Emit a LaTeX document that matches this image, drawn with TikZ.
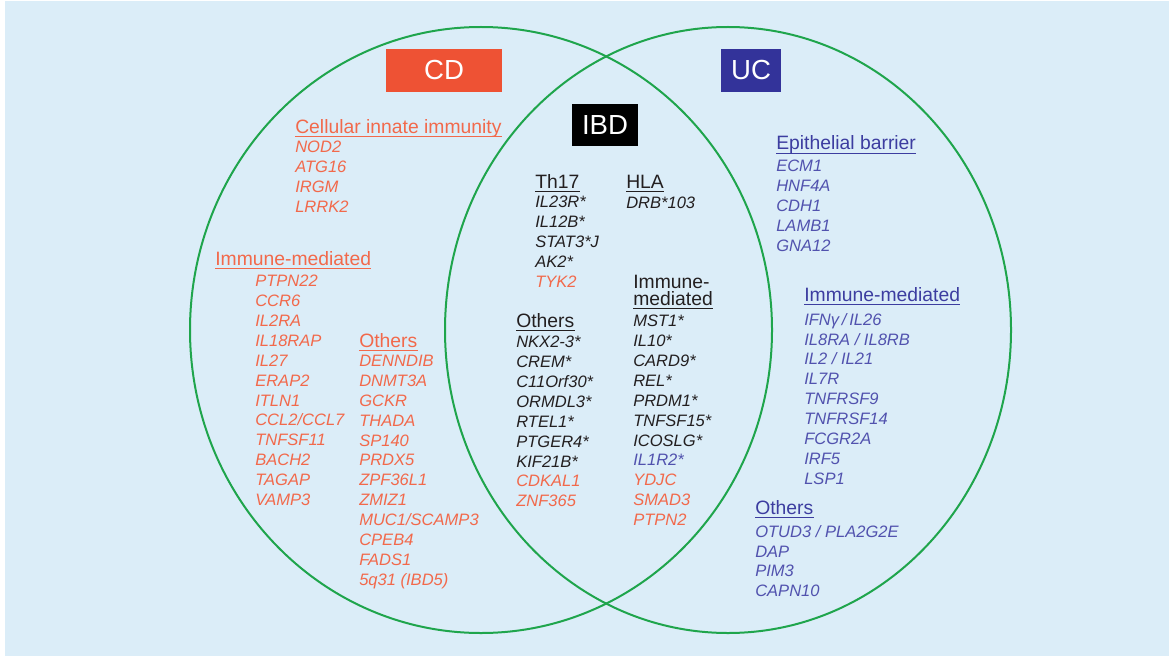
\documentclass[tikz,border=0pt]{standalone}
\usepackage{fontspec}
\setmainfont{Liberation Sans}
\usetikzlibrary{calc}

\definecolor{paneblue}{HTML}{DBEDF8}
\definecolor{ringgreen}{HTML}{1FA54C}
\definecolor{cdbox}{HTML}{EE5234}
\definecolor{cdtxt}{HTML}{F2694B}
\definecolor{ucbox}{HTML}{33339A}
\definecolor{uchead}{HTML}{3C3DA0}
\definecolor{uctxt}{HTML}{5152AE}
\definecolor{darktxt}{HTML}{231F20}

\tikzset{
  ring/.style={draw=ringgreen, line width=1.5pt},
  tagbox/.style={inner sep=0pt, minimum height=32.25pt, text=white, font=\fontsize{20.7}{24}\selectfont},
  grouphead/.style={anchor=base west, inner sep=0pt, font=\fontsize{14.5}{17}\selectfont},
  genelist/.style={anchor=north west, inner sep=0pt, align=left, font=\fontsize{12.4}{14.9}\selectfont\itshape},
  headline/.style={line width=1.2pt},
}

\begin{document}
\begin{tikzpicture}[x=0.75pt,y=0.75pt,yscale=-1]
%Background
\fill[paneblue] (0,0) rectangle (1169,656);
\fill[white] (0,0) rectangle (5,656);
\fill[white] (0,0) rectangle (1169,1);

%Shape: Ellipse [CD]
\draw[ring] (481,330) ellipse [x radius=291, y radius=303];
%Shape: Ellipse [UC]
\draw[ring] (728,330) ellipse [x radius=283, y radius=303];

% Tag boxes
\node[tagbox, fill=cdbox, minimum width=87pt] (cd) at (444,70.5) {CD};
\node[tagbox, fill=ucbox, minimum width=45pt] (uc) at (751,70.5) {UC};
\node[tagbox, fill=black, minimum width=49.5pt, minimum height=31.5pt] (ibd) at (605,125) {IBD};

% CD only
\node[grouphead, text=cdtxt] (cdinnate) at (295,133) {Cellular innate immunity};
\node[genelist, text=cdtxt] (cdinnatelist) at (295,141) {NOD2\\ATG16\\IRGM\\LRRK2};
\node[grouphead, text=cdtxt] (cdimmune) at (215,265) {Immune-mediated};
\node[genelist, text=cdtxt] (cdimmunelist) at (255,275) {PTPN22\\CCR6\\IL2RA\\IL18RAP\\IL27\\ERAP2\\ITLN1\\CCL2/CCL7\\TNFSF11\\BACH2\\TAGAP\\VAMP3};
\node[grouphead, text=cdtxt] (cdothers) at (359,347) {Others};
\node[genelist, text=cdtxt] (cdotherslist) at (359,355) {DENNDIB\\DNMT3A\\GCKR\\THADA\\SP140\\PRDX5\\ZPF36L1\\ZMIZ1\\MUC1/SCAMP3\\CPEB4\\FADS1\\5q31 (IBD5)};

% Shared (IBD)
\node[grouphead, text=darktxt] (thhead) at (535,188) {Th17};
\node[genelist, text=darktxt] (thlist) at (535,196) {IL23R*\\IL12B*\\STAT3*J\\AK2*\\{\color{cdtxt}TYK2}};
\node[grouphead, text=darktxt] (hlahead) at (626,188) {HLA};
\node[genelist, text=darktxt] (hlalist) at (626,197) {DRB*103};
\node[grouphead, text=darktxt] (ibdimmune) at (633,288) {Immune-};
\node[grouphead, text=darktxt] (ibdmediated) at (633,305) {mediated};
\node[genelist, text=darktxt] (ibdimmunelist) at (633,315) {MST1*\\IL10*\\CARD9*\\REL*\\PRDM1*\\TNFSF15*\\ICOSLG*\\{\color{uctxt}IL1R2*}\\{\color{cdtxt}YDJC}\\{\color{cdtxt}SMAD3}\\{\color{cdtxt}PTPN2}};
\node[grouphead, text=darktxt] (ibdothers) at (516,327) {Others};
\node[genelist, text=darktxt] (ibdotherslist) at (516,336) {NKX2-3*\\CREM*\\C11Orf30*\\ORMDL3*\\RTEL1*\\PTGER4*\\KIF21B*\\{\color{cdtxt}CDKAL1}\\{\color{cdtxt}ZNF365}};

% UC only
\node[grouphead, text=uchead] (ucepi) at (776,150) {Epithelial barrier};
\node[genelist, text=uctxt] (ucepilist) at (776,160) {ECM1\\HNF4A\\CDH1\\LAMB1\\GNA12};
\node[grouphead, text=uchead] (ucimmune) at (804,301) {Immune-mediated};
\node[genelist, text=uctxt] (ucimmunelist) at (804,313) {IFNγ\,/\,IL26\\IL8RA / IL8RB\\IL2 / IL21\\IL7R\\TNFRSF9\\TNFRSF14\\FCGR2A\\IRF5\\LSP1};
\node[grouphead, text=uchead] (ucothers) at (755,514) {Others};
\node[genelist, text=uctxt] (ucotherslist) at (755,525) {OTUD3 / PLA2G2E\\DAP\\PIM3\\CAPN10};

% Underlines
\draw[headline, cdtxt] ($(cdinnate.base west)+(0,3.5)$) -- ($(cdinnate.base east)+(0,3.5)$);
\draw[headline, cdtxt] ($(cdimmune.base west)+(0,3.5)$) -- ($(cdimmune.base east)+(0,3.5)$);
\draw[headline, cdtxt] ($(cdothers.base west)+(0,3.5)$) -- ($(cdothers.base east)+(0,3.5)$);
\draw[headline, darktxt] ($(thhead.base west)+(0,3.5)$) -- ($(thhead.base east)+(0,3.5)$);
\draw[headline, darktxt] ($(hlahead.base west)+(0,3.5)$) -- ($(hlahead.base east)+(0,3.5)$);
\draw[headline, darktxt] ($(ibdmediated.base west)+(0,3.5)$) -- ($(ibdmediated.base east)+(0,3.5)$);
\draw[headline, darktxt] ($(ibdothers.base west)+(0,3.5)$) -- ($(ibdothers.base east)+(0,3.5)$);
\draw[headline, uchead] ($(ucepi.base west)+(0,3.5)$) -- ($(ucepi.base east)+(0,3.5)$);
\draw[headline, uchead] ($(ucimmune.base west)+(0,3.5)$) -- ($(ucimmune.base east)+(0,3.5)$);
\draw[headline, uchead] ($(ucothers.base west)+(0,3.5)$) -- ($(ucothers.base east)+(0,3.5)$);
\end{tikzpicture}
\end{document}
